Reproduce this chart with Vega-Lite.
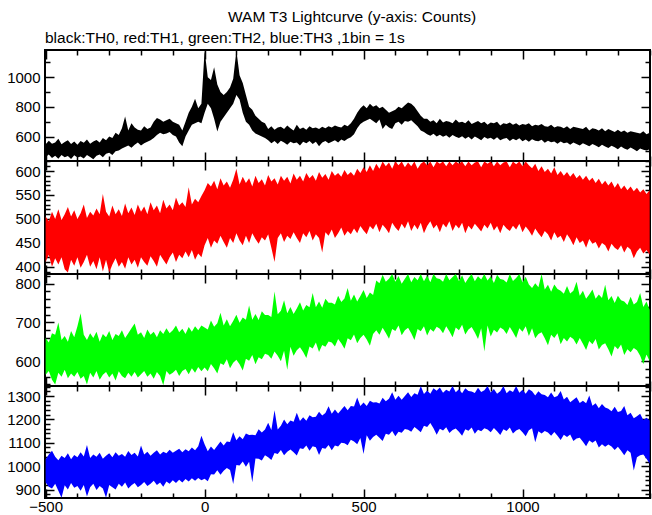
{
"$schema": "https://vega.github.io/schema/vega-lite/v6.json",
"padding": {"left": 5, "top": 10, "right": 2, "bottom": 0},
"title": {"text": "WAM T3 Lightcurve (y-axis: Counts)", "anchor": "start", "frame": "group", "dx": 183, "offset": 4},
"config": {
 "view": {"stroke": "black", "strokeWidth": 2},
 "axis": {"domain": false, "grid": false, "labelFont": "Liberation Sans", "labelFontSize": 15, "labelColor": "black", "tickColor": "black", "tickWidth": 1.5, "labelOverlap": false, "labelFlush": false, "labelBound": false},
 "title": {"font": "Liberation Sans", "fontSize": 15.5, "fontWeight": "normal", "color": "black"}
},
"spacing": 0,
"bounds": "flush",
"data": {"values": [
{"t":-500,"lo0":462,"hi0":548,"lo1":410,"hi1":505,"lo2":565,"hi2":660,"lo3":930,"hi3":1030},
{"t":-490,"lo0":478,"hi0":571,"lo1":425,"hi1":495,"lo2":575,"hi2":648,"lo3":912,"hi3":1050},
{"t":-480,"lo0":455,"hi0":552,"lo1":400,"hi1":515,"lo2":552,"hi2":672,"lo3":905,"hi3":1066},
{"t":-470,"lo0":470,"hi0":560,"lo1":418,"hi1":500,"lo2":540,"hi2":668,"lo3":925,"hi3":1040},
{"t":-460,"lo0":450,"hi0":585,"lo1":405,"hi1":520,"lo2":570,"hi2":700,"lo3":895,"hi3":1025},
{"t":-450,"lo0":476,"hi0":548,"lo1":420,"hi1":498,"lo2":560,"hi2":655,"lo3":865,"hi3":1045},
{"t":-440,"lo0":460,"hi0":563,"lo1":395,"hi1":510,"lo2":578,"hi2":665,"lo3":918,"hi3":1035},
{"t":-430,"lo0":468,"hi0":575,"lo1":388,"hi1":525,"lo2":556,"hi2":650,"lo3":900,"hi3":1055},
{"t":-420,"lo0":448,"hi0":550,"lo1":415,"hi1":505,"lo2":568,"hi2":678,"lo3":928,"hi3":1030},
{"t":-410,"lo0":473,"hi0":567,"lo1":402,"hi1":518,"lo2":560,"hi2":662,"lo3":908,"hi3":1048},
{"t":-400,"lo0":458,"hi0":545,"lo1":420,"hi1":500,"lo2":572,"hi2":690,"lo3":915,"hi3":1038},
{"t":-390,"lo0":466,"hi0":570,"lo1":398,"hi1":512,"lo2":555,"hi2":724,"lo3":895,"hi3":1060},
{"t":-380,"lo0":452,"hi0":558,"lo1":410,"hi1":530,"lo2":562,"hi2":668,"lo3":920,"hi3":1042},
{"t":-370,"lo0":475,"hi0":580,"lo1":425,"hi1":502,"lo2":540,"hi2":655,"lo3":870,"hi3":1091},
{"t":-360,"lo0":462,"hi0":552,"lo1":400,"hi1":515,"lo2":570,"hi2":672,"lo3":910,"hi3":1035},
{"t":-350,"lo0":447,"hi0":566,"lo1":412,"hi1":507,"lo2":558,"hi2":660,"lo3":925,"hi3":1050},
{"t":-340,"lo0":470,"hi0":576,"lo1":395,"hi1":522,"lo2":575,"hi2":676,"lo3":898,"hi3":1040},
{"t":-330,"lo0":478,"hi0":560,"lo1":420,"hi1":510,"lo2":552,"hi2":650,"lo3":915,"hi3":1058},
{"t":-320,"lo0":460,"hi0":590,"lo1":390,"hi1":552,"lo2":565,"hi2":670,"lo3":905,"hi3":1032},
{"t":-310,"lo0":484,"hi0":575,"lo1":415,"hi1":515,"lo2":572,"hi2":662,"lo3":865,"hi3":1045},
{"t":-300,"lo0":490,"hi0":600,"lo1":388,"hi1":505,"lo2":558,"hi2":678,"lo3":920,"hi3":1055},
{"t":-290,"lo0":475,"hi0":590,"lo1":405,"hi1":528,"lo2":568,"hi2":655,"lo3":910,"hi3":1038},
{"t":-280,"lo0":500,"hi0":625,"lo1":418,"hi1":510,"lo2":550,"hi2":670,"lo3":900,"hi3":1060},
{"t":-270,"lo0":505,"hi0":610,"lo1":400,"hi1":520,"lo2":574,"hi2":665,"lo3":925,"hi3":1045},
{"t":-260,"lo0":520,"hi0":655,"lo1":410,"hi1":506,"lo2":562,"hi2":680,"lo3":912,"hi3":1052},
{"t":-250,"lo0":530,"hi0":735,"lo1":396,"hi1":532,"lo2":556,"hi2":660,"lo3":930,"hi3":1040},
{"t":-240,"lo0":540,"hi0":640,"lo1":420,"hi1":512,"lo2":570,"hi2":672,"lo3":905,"hi3":1065},
{"t":-230,"lo0":525,"hi0":690,"lo1":405,"hi1":524,"lo2":560,"hi2":685,"lo3":918,"hi3":1048},
{"t":-220,"lo0":545,"hi0":660,"lo1":415,"hi1":508,"lo2":572,"hi2":697,"lo3":928,"hi3":1058},
{"t":-210,"lo0":560,"hi0":645,"lo1":398,"hi1":530,"lo2":558,"hi2":668,"lo3":910,"hi3":1042},
{"t":-200,"lo0":540,"hi0":640,"lo1":420,"hi1":515,"lo2":566,"hi2":675,"lo3":920,"hi3":1088},
{"t":-190,"lo0":555,"hi0":670,"lo1":410,"hi1":526,"lo2":575,"hi2":660,"lo3":932,"hi3":1050},
{"t":-180,"lo0":565,"hi0":650,"lo1":402,"hi1":510,"lo2":560,"hi2":682,"lo3":915,"hi3":1062},
{"t":-170,"lo0":575,"hi0":660,"lo1":422,"hi1":535,"lo2":568,"hi2":668,"lo3":925,"hi3":1045},
{"t":-160,"lo0":590,"hi0":700,"lo1":412,"hi1":518,"lo2":555,"hi2":676,"lo3":938,"hi3":1058},
{"t":-150,"lo0":610,"hi0":725,"lo1":400,"hi1":528,"lo2":572,"hi2":662,"lo3":920,"hi3":1068},
{"t":-140,"lo0":625,"hi0":715,"lo1":425,"hi1":512,"lo2":562,"hi2":680,"lo3":930,"hi3":1050},
{"t":-130,"lo0":615,"hi0":700,"lo1":415,"hi1":540,"lo2":538,"hi2":670,"lo3":912,"hi3":1062},
{"t":-120,"lo0":620,"hi0":710,"lo1":405,"hi1":522,"lo2":575,"hi2":685,"lo3":935,"hi3":1055},
{"t":-110,"lo0":630,"hi0":720,"lo1":420,"hi1":530,"lo2":565,"hi2":672,"lo3":925,"hi3":1070},
{"t":-100,"lo0":610,"hi0":700,"lo1":430,"hi1":518,"lo2":570,"hi2":680,"lo3":940,"hi3":1058},
{"t":-90,"lo0":600,"hi0":690,"lo1":410,"hi1":545,"lo2":578,"hi2":692,"lo3":928,"hi3":1066},
{"t":-80,"lo0":560,"hi0":680,"lo1":425,"hi1":528,"lo2":562,"hi2":675,"lo3":942,"hi3":1075},
{"t":-70,"lo0":535,"hi0":640,"lo1":418,"hi1":535,"lo2":575,"hi2":684,"lo3":930,"hi3":1060},
{"t":-60,"lo0":600,"hi0":700,"lo1":432,"hi1":525,"lo2":580,"hi2":670,"lo3":945,"hi3":1072},
{"t":-50,"lo0":640,"hi0":760,"lo1":420,"hi1":566,"lo2":566,"hi2":688,"lo3":935,"hi3":1064},
{"t":-40,"lo0":680,"hi0":800,"lo1":435,"hi1":530,"lo2":582,"hi2":676,"lo3":948,"hi3":1080},
{"t":-30,"lo0":690,"hi0":855,"lo1":415,"hi1":542,"lo2":570,"hi2":690,"lo3":938,"hi3":1068},
{"t":-20,"lo0":700,"hi0":790,"lo1":428,"hi1":535,"lo2":585,"hi2":680,"lo3":950,"hi3":1085},
{"t":-10,"lo0":690,"hi0":820,"lo1":420,"hi1":548,"lo2":574,"hi2":692,"lo3":940,"hi3":1130},
{"t":0,"lo0":760,"hi0":1180,"lo1":445,"hi1":560,"lo2":584,"hi2":687,"lo3":946,"hi3":1094},
{"t":10,"lo0":820,"hi0":1000,"lo1":460,"hi1":575,"lo2":574,"hi2":682,"lo3":936,"hi3":1064},
{"t":20,"lo0":790,"hi0":980,"lo1":440,"hi1":568,"lo2":593,"hi2":705,"lo3":966,"hi3":1084},
{"t":30,"lo0":720,"hi0":1067,"lo1":455,"hi1":580,"lo2":582,"hi2":689,"lo3":964,"hi3":1069},
{"t":40,"lo0":633,"hi0":950,"lo1":448,"hi1":562,"lo2":568,"hi2":698,"lo3":983,"hi3":1087},
{"t":50,"lo0":700,"hi0":900,"lo1":465,"hi1":585,"lo2":595,"hi2":725,"lo3":963,"hi3":1106},
{"t":60,"lo0":730,"hi0":880,"lo1":452,"hi1":570,"lo2":590,"hi2":692,"lo3":981,"hi3":1088},
{"t":70,"lo0":760,"hi0":900,"lo1":440,"hi1":578,"lo2":605,"hi2":708,"lo3":992,"hi3":1106},
{"t":80,"lo0":790,"hi0":930,"lo1":460,"hi1":565,"lo2":582,"hi2":690,"lo3":984,"hi3":1104},
{"t":90,"lo0":820,"hi0":990,"lo1":450,"hi1":582,"lo2":596,"hi2":704,"lo3":924,"hi3":1145},
{"t":100,"lo0":880,"hi0":1180,"lo1":470,"hi1":605,"lo2":604,"hi2":720,"lo3":1005,"hi3":1111},
{"t":110,"lo0":850,"hi0":1013,"lo1":455,"hi1":572,"lo2":592,"hi2":699,"lo3":1003,"hi3":1128},
{"t":120,"lo0":760,"hi0":960,"lo1":445,"hi1":588,"lo2":576,"hi2":713,"lo3":1020,"hi3":1115},
{"t":130,"lo0":700,"hi0":880,"lo1":465,"hi1":575,"lo2":606,"hi2":707,"lo3":998,"hi3":1140},
{"t":140,"lo0":680,"hi0":800,"lo1":450,"hi1":585,"lo2":601,"hi2":744,"lo3":1019,"hi3":1133},
{"t":150,"lo0":640,"hi0":780,"lo1":470,"hi1":568,"lo2":616,"hi2":707,"lo3":931,"hi3":1135},
{"t":160,"lo0":620,"hi0":740,"lo1":458,"hi1":590,"lo2":592,"hi2":722,"lo3":1033,"hi3":1132},
{"t":170,"lo0":610,"hi0":720,"lo1":448,"hi1":575,"lo2":610,"hi2":706,"lo3":1032,"hi3":1158},
{"t":180,"lo0":600,"hi0":700,"lo1":462,"hi1":583,"lo2":605,"hi2":729,"lo3":1024,"hi3":1144},
{"t":190,"lo0":590,"hi0":690,"lo1":455,"hi1":570,"lo2":619,"hi2":719,"lo3":1047,"hi3":1157},
{"t":200,"lo0":575,"hi0":650,"lo1":468,"hi1":592,"lo2":616,"hi2":719,"lo3":1038,"hi3":1186},
{"t":210,"lo0":555,"hi0":670,"lo1":440,"hi1":578,"lo2":606,"hi2":714,"lo3":1027,"hi3":1155},
{"t":220,"lo0":570,"hi0":645,"lo1":410,"hi1":585,"lo2":625,"hi2":780,"lo3":1056,"hi3":1239},
{"t":230,"lo0":550,"hi0":660,"lo1":460,"hi1":572,"lo2":614,"hi2":721,"lo3":1052,"hi3":1157},
{"t":240,"lo0":572,"hi0":665,"lo1":470,"hi1":590,"lo2":600,"hi2":730,"lo3":1069,"hi3":1173},
{"t":250,"lo0":560,"hi0":650,"lo1":452,"hi1":580,"lo2":627,"hi2":757,"lo3":1047,"hi3":1200},
{"t":260,"lo0":545,"hi0":675,"lo1":465,"hi1":588,"lo2":578,"hi2":724,"lo3":1062,"hi3":1179},
{"t":270,"lo0":565,"hi0":655,"lo1":458,"hi1":574,"lo2":637,"hi2":740,"lo3":1071,"hi3":1195},
{"t":280,"lo0":555,"hi0":640,"lo1":472,"hi1":595,"lo2":614,"hi2":722,"lo3":1060,"hi3":1190},
{"t":290,"lo0":560,"hi0":680,"lo1":460,"hi1":582,"lo2":628,"hi2":736,"lo3":1046,"hi3":1229},
{"t":300,"lo0":540,"hi0":650,"lo1":450,"hi1":590,"lo2":636,"hi2":752,"lo3":1077,"hi3":1193},
{"t":310,"lo0":565,"hi0":660,"lo1":470,"hi1":578,"lo2":624,"hi2":731,"lo3":1074,"hi3":1209},
{"t":320,"lo0":555,"hi0":645,"lo1":462,"hi1":596,"lo2":608,"hi2":745,"lo3":1089,"hi3":1194},
{"t":330,"lo0":570,"hi0":670,"lo1":475,"hi1":585,"lo2":638,"hi2":739,"lo3":1066,"hi3":1218},
{"t":340,"lo0":550,"hi0":655,"lo1":455,"hi1":592,"lo2":633,"hi2":776,"lo3":1085,"hi3":1209},
{"t":350,"lo0":565,"hi0":660,"lo1":468,"hi1":580,"lo2":648,"hi2":739,"lo3":1081,"hi3":1212},
{"t":360,"lo0":535,"hi0":650,"lo1":460,"hi1":598,"lo2":624,"hi2":754,"lo3":1048,"hi3":1233},
{"t":370,"lo0":560,"hi0":665,"lo1":430,"hi1":586,"lo2":642,"hi2":738,"lo3":1078,"hi3":1217},
{"t":380,"lo0":570,"hi0":655,"lo1":472,"hi1":594,"lo2":637,"hi2":761,"lo3":1075,"hi3":1228},
{"t":390,"lo0":555,"hi0":670,"lo1":465,"hi1":582,"lo2":651,"hi2":751,"lo3":1091,"hi3":1256},
{"t":400,"lo0":565,"hi0":660,"lo1":478,"hi1":600,"lo2":648,"hi2":751,"lo3":1068,"hi3":1224},
{"t":410,"lo0":575,"hi0":675,"lo1":460,"hi1":590,"lo2":638,"hi2":746,"lo3":1088,"hi3":1242},
{"t":420,"lo0":560,"hi0":665,"lo1":470,"hi1":596,"lo2":657,"hi2":769,"lo3":1084,"hi3":1225},
{"t":430,"lo0":580,"hi0":660,"lo1":482,"hi1":588,"lo2":646,"hi2":753,"lo3":1100,"hi3":1241},
{"t":440,"lo0":570,"hi0":680,"lo1":465,"hi1":602,"lo2":632,"hi2":762,"lo3":1098,"hi3":1258},
{"t":450,"lo0":585,"hi0":670,"lo1":475,"hi1":592,"lo2":659,"hi2":789,"lo3":1090,"hi3":1239},
{"t":460,"lo0":595,"hi0":690,"lo1":468,"hi1":598,"lo2":654,"hi2":756,"lo3":1113,"hi3":1257},
{"t":470,"lo0":615,"hi0":720,"lo1":480,"hi1":590,"lo2":669,"hi2":772,"lo3":1106,"hi3":1255},
{"t":480,"lo0":655,"hi0":760,"lo1":470,"hi1":605,"lo2":646,"hi2":754,"lo3":1094,"hi3":1294},
{"t":490,"lo0":685,"hi0":790,"lo1":485,"hi1":596,"lo2":660,"hi2":768,"lo3":1121,"hi3":1257},
{"t":500,"lo0":700,"hi0":810,"lo1":476,"hi1":608,"lo2":668,"hi2":784,"lo3":1052,"hi3":1272},
{"t":510,"lo0":710,"hi0":790,"lo1":468,"hi1":598,"lo2":656,"hi2":763,"lo3":1132,"hi3":1257},
{"t":520,"lo0":720,"hi0":820,"lo1":485,"hi1":612,"lo2":640,"hi2":777,"lo3":1109,"hi3":1280},
{"t":530,"lo0":705,"hi0":800,"lo1":478,"hi1":600,"lo2":670,"hi2":771,"lo3":1125,"hi3":1272},
{"t":540,"lo0":690,"hi0":810,"lo1":490,"hi1":615,"lo2":680,"hi2":808,"lo3":1134,"hi3":1273},
{"t":550,"lo0":715,"hi0":790,"lo1":472,"hi1":605,"lo2":668,"hi2":801,"lo3":1122,"hi3":1268},
{"t":560,"lo0":650,"hi0":800,"lo1":488,"hi1":620,"lo2":686,"hi2":823,"lo3":1108,"hi3":1293},
{"t":570,"lo0":680,"hi0":780,"lo1":480,"hi1":610,"lo2":673,"hi2":805,"lo3":1139,"hi3":1278},
{"t":580,"lo0":660,"hi0":760,"lo1":470,"hi1":618,"lo2":658,"hi2":813,"lo3":1135,"hi3":1288},
{"t":590,"lo0":650,"hi0":770,"lo1":492,"hi1":605,"lo2":683,"hi2":825,"lo3":1151,"hi3":1316},
{"t":600,"lo0":690,"hi0":780,"lo1":482,"hi1":620,"lo2":678,"hi2":805,"lo3":1128,"hi3":1284},
{"t":610,"lo0":700,"hi0":800,"lo1":475,"hi1":612,"lo2":692,"hi2":820,"lo3":1147,"hi3":1301},
{"t":620,"lo0":680,"hi0":790,"lo1":490,"hi1":620,"lo2":667,"hi2":800,"lo3":1143,"hi3":1284},
{"t":630,"lo0":705,"hi0":810,"lo1":480,"hi1":608,"lo2":680,"hi2":813,"lo3":1159,"hi3":1300},
{"t":640,"lo0":700,"hi0":830,"lo1":495,"hi1":618,"lo2":686,"hi2":825,"lo3":1156,"hi3":1316},
{"t":650,"lo0":710,"hi0":820,"lo1":475,"hi1":610,"lo2":672,"hi2":804,"lo3":1147,"hi3":1296},
{"t":660,"lo0":690,"hi0":800,"lo1":488,"hi1":620,"lo2":655,"hi2":817,"lo3":1168,"hi3":1312},
{"t":670,"lo0":670,"hi0":770,"lo1":478,"hi1":605,"lo2":683,"hi2":809,"lo3":1157,"hi3":1306},
{"t":680,"lo0":640,"hi0":740,"lo1":492,"hi1":615,"lo2":677,"hi2":825,"lo3":1145,"hi3":1343},
{"t":690,"lo0":630,"hi0":720,"lo1":470,"hi1":620,"lo2":690,"hi2":806,"lo3":1173,"hi3":1309},
{"t":700,"lo0":615,"hi0":720,"lo1":485,"hi1":612,"lo2":666,"hi2":821,"lo3":1168,"hi3":1324},
{"t":710,"lo0":605,"hi0":700,"lo1":495,"hi1":620,"lo2":683,"hi2":804,"lo3":1185,"hi3":1310},
{"t":720,"lo0":618,"hi0":710,"lo1":480,"hi1":608,"lo2":676,"hi2":825,"lo3":1162,"hi3":1333},
{"t":730,"lo0":600,"hi0":690,"lo1":488,"hi1":620,"lo2":689,"hi2":814,"lo3":1135,"hi3":1323},
{"t":740,"lo0":612,"hi0":720,"lo1":472,"hi1":615,"lo2":684,"hi2":812,"lo3":1160,"hi3":1337},
{"t":750,"lo0":598,"hi0":695,"lo1":490,"hi1":620,"lo2":672,"hi2":805,"lo3":1153,"hi3":1314},
{"t":760,"lo0":608,"hi0":705,"lo1":482,"hi1":610,"lo2":690,"hi2":825,"lo3":1167,"hi3":1327},
{"t":770,"lo0":592,"hi0":700,"lo1":495,"hi1":620,"lo2":677,"hi2":809,"lo3":1142,"hi3":1319},
{"t":780,"lo0":610,"hi0":690,"lo1":475,"hi1":612,"lo2":662,"hi2":817,"lo3":1155,"hi3":1343},
{"t":790,"lo0":598,"hi0":715,"lo1":488,"hi1":620,"lo2":687,"hi2":825,"lo3":1161,"hi3":1316},
{"t":800,"lo0":590,"hi0":695,"lo1":480,"hi1":615,"lo2":680,"hi2":807,"lo3":1147,"hi3":1329},
{"t":810,"lo0":602,"hi0":700,"lo1":492,"hi1":620,"lo2":694,"hi2":822,"lo3":1130,"hi3":1312},
{"t":820,"lo0":585,"hi0":690,"lo1":470,"hi1":610,"lo2":669,"hi2":802,"lo3":1158,"hi3":1333},
{"t":830,"lo0":598,"hi0":710,"lo1":486,"hi1":620,"lo2":682,"hi2":815,"lo3":1152,"hi3":1322},
{"t":840,"lo0":580,"hi0":685,"lo1":478,"hi1":612,"lo2":688,"hi2":825,"lo3":1165,"hi3":1320},
{"t":850,"lo0":600,"hi0":695,"lo1":490,"hi1":618,"lo2":674,"hi2":806,"lo3":1139,"hi3":1313},
{"t":860,"lo0":588,"hi0":705,"lo1":482,"hi1":620,"lo2":657,"hi2":819,"lo3":1156,"hi3":1335},
{"t":870,"lo0":575,"hi0":690,"lo1":474,"hi1":608,"lo2":685,"hi2":811,"lo3":1149,"hi3":1317},
{"t":880,"lo0":596,"hi0":700,"lo1":488,"hi1":620,"lo2":625,"hi2":825,"lo3":1162,"hi3":1325},
{"t":890,"lo0":585,"hi0":680,"lo1":480,"hi1":615,"lo2":692,"hi2":808,"lo3":1157,"hi3":1343},
{"t":900,"lo0":592,"hi0":695,"lo1":492,"hi1":620,"lo2":664,"hi2":819,"lo3":1145,"hi3":1315},
{"t":910,"lo0":578,"hi0":690,"lo1":476,"hi1":610,"lo2":681,"hi2":802,"lo3":1163,"hi3":1330},
{"t":920,"lo0":595,"hi0":700,"lo1":485,"hi1":620,"lo2":674,"hi2":823,"lo3":1150,"hi3":1310},
{"t":930,"lo0":575,"hi0":675,"lo1":470,"hi1":612,"lo2":687,"hi2":812,"lo3":1133,"hi3":1321},
{"t":940,"lo0":585,"hi0":690,"lo1":488,"hi1":618,"lo2":682,"hi2":810,"lo3":1158,"hi3":1343},
{"t":950,"lo0":590,"hi0":685,"lo1":480,"hi1":620,"lo2":670,"hi2":803,"lo3":1151,"hi3":1312},
{"t":960,"lo0":570,"hi0":695,"lo1":475,"hi1":608,"lo2":688,"hi2":825,"lo3":1165,"hi3":1325},
{"t":970,"lo0":585,"hi0":680,"lo1":486,"hi1":620,"lo2":675,"hi2":807,"lo3":1140,"hi3":1317},
{"t":980,"lo0":575,"hi0":690,"lo1":478,"hi1":614,"lo2":660,"hi2":815,"lo3":1153,"hi3":1343},
{"t":990,"lo0":588,"hi0":675,"lo1":490,"hi1":620,"lo2":685,"hi2":825,"lo3":1159,"hi3":1314},
{"t":1000,"lo0":568,"hi0":685,"lo1":472,"hi1":610,"lo2":676,"hi2":803,"lo3":1145,"hi3":1327},
{"t":1010,"lo0":580,"hi0":680,"lo1":484,"hi1":620,"lo2":690,"hi2":818,"lo3":1128,"hi3":1310},
{"t":1020,"lo0":565,"hi0":690,"lo1":476,"hi1":612,"lo2":665,"hi2":798,"lo3":1154,"hi3":1329},
{"t":1030,"lo0":582,"hi0":670,"lo1":465,"hi1":606,"lo2":685,"hi2":789,"lo3":1162,"hi3":1321},
{"t":1040,"lo0":572,"hi0":680,"lo1":480,"hi1":615,"lo2":659,"hi2":801,"lo3":1102,"hi3":1302},
{"t":1050,"lo0":568,"hi0":675,"lo1":470,"hi1":600,"lo2":670,"hi2":791,"lo3":1149,"hi3":1321},
{"t":1060,"lo0":578,"hi0":685,"lo1":462,"hi1":610,"lo2":675,"hi2":825,"lo3":1140,"hi3":1308},
{"t":1070,"lo0":558,"hi0":670,"lo1":475,"hi1":598,"lo2":659,"hi2":785,"lo3":1151,"hi3":1304},
{"t":1080,"lo0":572,"hi0":665,"lo1":468,"hi1":605,"lo2":641,"hi2":797,"lo3":1144,"hi3":1295},
{"t":1090,"lo0":562,"hi0":680,"lo1":455,"hi1":595,"lo2":668,"hi2":779,"lo3":1130,"hi3":1315},
{"t":1100,"lo0":566,"hi0":660,"lo1":472,"hi1":608,"lo2":660,"hi2":798,"lo3":1146,"hi3":1295},
{"t":1110,"lo0":552,"hi0":670,"lo1":460,"hi1":592,"lo2":672,"hi2":786,"lo3":1130,"hi3":1300},
{"t":1120,"lo0":566,"hi0":665,"lo1":465,"hi1":600,"lo2":644,"hi2":782,"lo3":1112,"hi3":1322},
{"t":1130,"lo0":555,"hi0":655,"lo1":452,"hi1":590,"lo2":660,"hi2":774,"lo3":1135,"hi3":1285},
{"t":1140,"lo0":560,"hi0":670,"lo1":468,"hi1":598,"lo2":651,"hi2":794,"lo3":1125,"hi3":1297},
{"t":1150,"lo0":545,"hi0":650,"lo1":458,"hi1":588,"lo2":663,"hi2":775,"lo3":1136,"hi3":1274},
{"t":1160,"lo0":560,"hi0":665,"lo1":445,"hi1":596,"lo2":657,"hi2":782,"lo3":1108,"hi3":1284},
{"t":1170,"lo0":550,"hi0":660,"lo1":462,"hi1":585,"lo2":643,"hi2":805,"lo3":1118,"hi3":1295},
{"t":1180,"lo0":540,"hi0":655,"lo1":450,"hi1":592,"lo2":660,"hi2":769,"lo3":1122,"hi3":1270},
{"t":1190,"lo0":555,"hi0":650,"lo1":455,"hi1":582,"lo2":645,"hi2":782,"lo3":1105,"hi3":1280},
{"t":1200,"lo0":545,"hi0":665,"lo1":440,"hi1":590,"lo2":629,"hi2":761,"lo3":1085,"hi3":1269},
{"t":1210,"lo0":535,"hi0":640,"lo1":458,"hi1":580,"lo2":652,"hi2":772,"lo3":1110,"hi3":1302},
{"t":1220,"lo0":550,"hi0":655,"lo1":448,"hi1":586,"lo2":644,"hi2":785,"lo3":1100,"hi3":1259},
{"t":1230,"lo0":540,"hi0":650,"lo1":452,"hi1":575,"lo2":657,"hi2":761,"lo3":1110,"hi3":1269},
{"t":1240,"lo0":528,"hi0":640,"lo1":438,"hi1":584,"lo2":630,"hi2":772,"lo3":1080,"hi3":1248},
{"t":1250,"lo0":545,"hi0":655,"lo1":450,"hi1":572,"lo2":642,"hi2":763,"lo3":1094,"hi3":1266},
{"t":1260,"lo0":532,"hi0":635,"lo1":445,"hi1":580,"lo2":646,"hi2":797,"lo3":1083,"hi3":1251},
{"t":1270,"lo0":522,"hi0":650,"lo1":432,"hi1":570,"lo2":631,"hi2":757,"lo3":1093,"hi3":1246},
{"t":1280,"lo0":538,"hi0":640,"lo1":448,"hi1":578,"lo2":612,"hi2":768,"lo3":1084,"hi3":1235},
{"t":1290,"lo0":528,"hi0":630,"lo1":440,"hi1":565,"lo2":639,"hi2":750,"lo3":1069,"hi3":1254},
{"t":1300,"lo0":515,"hi0":645,"lo1":435,"hi1":575,"lo2":631,"hi2":769,"lo3":1083,"hi3":1232},
{"t":1310,"lo0":532,"hi0":630,"lo1":445,"hi1":562,"lo2":643,"hi2":757,"lo3":1066,"hi3":1236},
{"t":1320,"lo0":520,"hi0":640,"lo1":430,"hi1":570,"lo2":616,"hi2":754,"lo3":1047,"hi3":1257},
{"t":1330,"lo0":510,"hi0":625,"lo1":442,"hi1":560,"lo2":631,"hi2":745,"lo3":1068,"hi3":1218},
{"t":1340,"lo0":526,"hi0":635,"lo1":436,"hi1":568,"lo2":623,"hi2":766,"lo3":1057,"hi3":1229},
{"t":1350,"lo0":515,"hi0":630,"lo1":418,"hi1":558,"lo2":634,"hi2":746,"lo3":982,"hi3":1205},
{"t":1360,"lo0":500,"hi0":625,"lo1":432,"hi1":565,"lo2":628,"hi2":753,"lo3":1038,"hi3":1214},
{"t":1370,"lo0":520,"hi0":620,"lo1":440,"hi1":555,"lo2":614,"hi2":776,"lo3":1047,"hi3":1224},
{"t":1380,"lo0":510,"hi0":635,"lo1":428,"hi1":562,"lo2":593,"hi2":740,"lo3":1050,"hi3":1198},
{"t":1390,"lo0":505,"hi0":615,"lo1":435,"hi1":552,"lo2":617,"hi2":754,"lo3":1032,"hi3":1207},
{"t":1400,"lo0":515,"hi0":625,"lo1":425,"hi1":560,"lo2":600,"hi2":732,"lo3":1011,"hi3":1195}
]},
"vconcat": [
{
 "width": 605, "height": 111,
 "title": {"text": "black:TH0, red:TH1, green:TH2, blue:TH3 ,1bin = 1s", "anchor": "start", "frame": "group", "offset": 3},
 "layer": [
  {"mark": {"type": "area", "color": "#000000", "clip": true},
   "encoding": {
    "x": {"field": "t", "type": "quantitative", "scale": {"domain": [-502, 1401], "nice": false, "zero": false},
          "axis": {"orient": "bottom", "title": null, "labels": false, "maxExtent": 0, "values": [-500,-400,-300,-200,-100,0,100,200,300,400,500,600,700,800,900,1000,1100,1200,1300,1400], "tickSize": {"condition": {"test": "datum.value % 500 === 0", "value": -9}, "value": -5}}},
    "y": {"field": "lo0", "type": "quantitative", "scale": {"domain": [435, 1183], "nice": false, "zero": false},
          "axis": {"orient": "left", "title": null, "format": "d", "values": [500,600,700,800,900,1000,1100], "labelExpr": "datum.value % 200 === 0 ? datum.label : ''", "labelPadding": 14, "tickSize": {"condition": {"test": "datum.value % 200 === 0", "value": -9}, "value": -5}}},
    "y2": {"field": "hi0"}
   }},
  {"mark": {"type": "point", "opacity": 0},
   "encoding": {
    "x": {"field": "t", "type": "quantitative", "axis": {"orient": "top", "title": null, "labels": false, "maxExtent": 0, "values": [-500,-400,-300,-200,-100,0,100,200,300,400,500,600,700,800,900,1000,1100,1200,1300,1400], "tickSize": {"condition": {"test": "datum.value % 500 === 0", "value": -9}, "value": -5}}},
    "y": {"field": "lo0", "type": "quantitative", "axis": {"orient": "right", "title": null, "labels": false, "maxExtent": 0, "values": [500,600,700,800,900,1000,1100], "tickSize": {"condition": {"test": "datum.value % 200 === 0", "value": -9}, "value": -5}}}
   }}
 ],
 "resolve": {"axis": {"x": "independent", "y": "independent"}}
},
{
 "width": 605, "height": 113,
 "layer": [
  {"mark": {"type": "area", "color": "#ff0000", "clip": true},
   "encoding": {
    "x": {"field": "t", "type": "quantitative", "scale": {"domain": [-502, 1401], "nice": false, "zero": false},
          "axis": {"orient": "bottom", "title": null, "labels": false, "maxExtent": 0, "values": [-500,-400,-300,-200,-100,0,100,200,300,400,500,600,700,800,900,1000,1100,1200,1300,1400], "tickSize": {"condition": {"test": "datum.value % 500 === 0", "value": -9}, "value": -5}}},
    "y": {"field": "lo1", "type": "quantitative", "scale": {"domain": [385, 621], "nice": false, "zero": false},
          "axis": {"orient": "left", "title": null, "format": "d", "values": [390,400,410,420,430,440,450,460,470,480,490,500,510,520,530,540,550,560,570,580,590,600,610,620], "labelExpr": "datum.value % 50 === 0 ? datum.label : ''", "labelPadding": 14, "tickSize": {"condition": {"test": "datum.value % 50 === 0", "value": -9}, "value": -5}}},
    "y2": {"field": "hi1"}
   }},
  {"mark": {"type": "point", "opacity": 0},
   "encoding": {
    "x": {"field": "t", "type": "quantitative", "axis": {"orient": "top", "title": null, "labels": false, "maxExtent": 0, "values": [-500,-400,-300,-200,-100,0,100,200,300,400,500,600,700,800,900,1000,1100,1200,1300,1400], "tickSize": {"condition": {"test": "datum.value % 500 === 0", "value": -9}, "value": -5}}},
    "y": {"field": "lo1", "type": "quantitative", "axis": {"orient": "right", "title": null, "labels": false, "maxExtent": 0, "values": [390,400,410,420,430,440,450,460,470,480,490,500,510,520,530,540,550,560,570,580,590,600,610,620], "tickSize": {"condition": {"test": "datum.value % 50 === 0", "value": -9}, "value": -5}}}
   }}
 ],
 "resolve": {"axis": {"x": "independent", "y": "independent"}}
},
{
 "width": 605, "height": 112,
 "layer": [
  {"mark": {"type": "area", "color": "#00ff00", "clip": true},
   "encoding": {
    "x": {"field": "t", "type": "quantitative", "scale": {"domain": [-502, 1401], "nice": false, "zero": false},
          "axis": {"orient": "bottom", "title": null, "labels": false, "maxExtent": 0, "values": [-500,-400,-300,-200,-100,0,100,200,300,400,500,600,700,800,900,1000,1100,1200,1300,1400], "tickSize": {"condition": {"test": "datum.value % 500 === 0", "value": -9}, "value": -5}}},
    "y": {"field": "lo2", "type": "quantitative", "scale": {"domain": [536, 825], "nice": false, "zero": false},
          "axis": {"orient": "left", "title": null, "format": "d", "values": [540,560,580,600,620,640,660,680,700,720,740,760,780,800,820], "labelExpr": "datum.value % 100 === 0 ? datum.label : ''", "labelPadding": 14, "tickSize": {"condition": {"test": "datum.value % 100 === 0", "value": -9}, "value": -5}}},
    "y2": {"field": "hi2"}
   }},
  {"mark": {"type": "point", "opacity": 0},
   "encoding": {
    "x": {"field": "t", "type": "quantitative", "axis": {"orient": "top", "title": null, "labels": false, "maxExtent": 0, "values": [-500,-400,-300,-200,-100,0,100,200,300,400,500,600,700,800,900,1000,1100,1200,1300,1400], "tickSize": {"condition": {"test": "datum.value % 500 === 0", "value": -9}, "value": -5}}},
    "y": {"field": "lo2", "type": "quantitative", "axis": {"orient": "right", "title": null, "labels": false, "maxExtent": 0, "values": [540,560,580,600,620,640,660,680,700,720,740,760,780,800,820], "tickSize": {"condition": {"test": "datum.value % 100 === 0", "value": -9}, "value": -5}}}
   }}
 ],
 "resolve": {"axis": {"x": "independent", "y": "independent"}}
},
{
 "width": 605, "height": 112,
 "layer": [
  {"mark": {"type": "area", "color": "#0000ff", "clip": true},
   "encoding": {
    "x": {"field": "t", "type": "quantitative", "scale": {"domain": [-502, 1401], "nice": false, "zero": false},
          "axis": {"orient": "bottom", "title": null, "format": "d", "labelPadding": 10, "labelExpr": "datum.value % 500 === 0 ? datum.label : ''", "values": [-500,-400,-300,-200,-100,0,100,200,300,400,500,600,700,800,900,1000,1100,1200,1300,1400], "tickSize": {"condition": {"test": "datum.value % 500 === 0", "value": -9}, "value": -5}}},
    "y": {"field": "lo3", "type": "quantitative", "scale": {"domain": [864, 1343], "nice": false, "zero": false},
          "axis": {"orient": "left", "title": null, "format": "d", "values": [880,900,920,940,960,980,1000,1020,1040,1060,1080,1100,1120,1140,1160,1180,1200,1220,1240,1260,1280,1300,1320,1340], "labelExpr": "datum.value % 100 === 0 ? datum.label : ''", "labelPadding": 14, "tickSize": {"condition": {"test": "datum.value % 100 === 0", "value": -9}, "value": -5}}},
    "y2": {"field": "hi3"}
   }},
  {"mark": {"type": "point", "opacity": 0},
   "encoding": {
    "x": {"field": "t", "type": "quantitative", "axis": {"orient": "top", "title": null, "labels": false, "maxExtent": 0, "values": [-500,-400,-300,-200,-100,0,100,200,300,400,500,600,700,800,900,1000,1100,1200,1300,1400], "tickSize": {"condition": {"test": "datum.value % 500 === 0", "value": -9}, "value": -5}}},
    "y": {"field": "lo3", "type": "quantitative", "axis": {"orient": "right", "title": null, "labels": false, "maxExtent": 0, "values": [880,900,920,940,960,980,1000,1020,1040,1060,1080,1100,1120,1140,1160,1180,1200,1220,1240,1260,1280,1300,1320,1340], "tickSize": {"condition": {"test": "datum.value % 100 === 0", "value": -9}, "value": -5}}}
   }}
 ],
 "resolve": {"axis": {"x": "independent", "y": "independent"}}
}
]
}
